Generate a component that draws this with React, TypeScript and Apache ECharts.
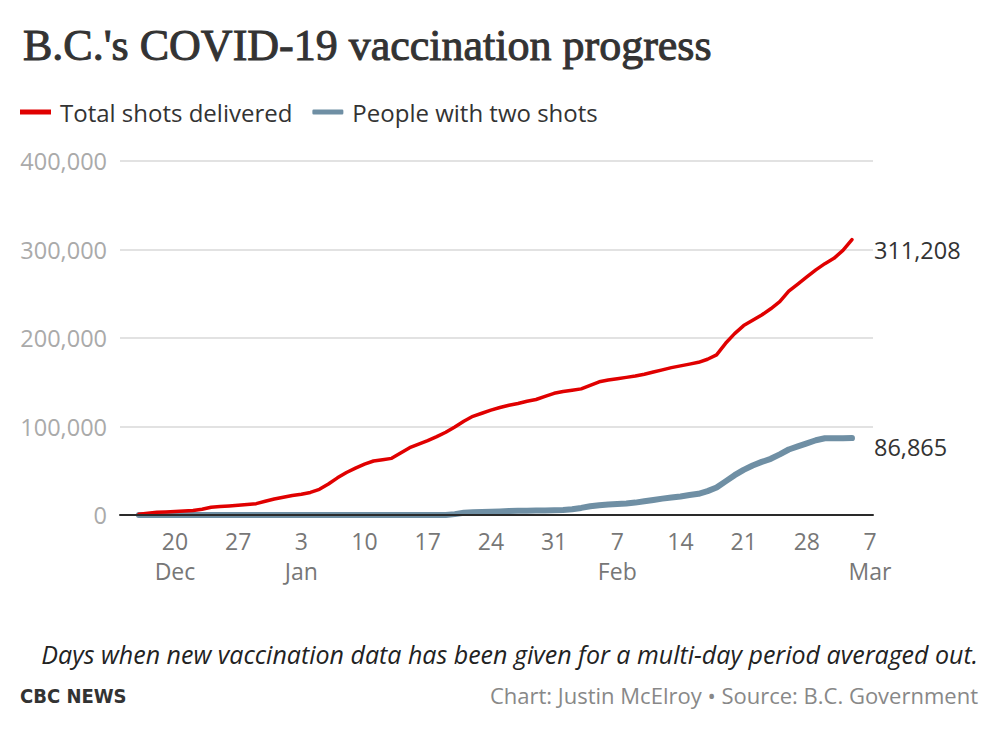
import React, { useEffect, useRef } from "react";
import * as echarts from "echarts";

// ---- data ----
const START_DATE = "2020-12-16"; // first day of the daily series
const REF_DATE = "2020-12-20"; // x = 0 on the axis

const totalShots = [
  800, 2000, 3000, 3500, 4000, 4500, 5200, 6500, 8700, 9500, 10300, 11000, 11800, 12800, 15500, 18000,
  20000, 22000, 23500, 25500, 29000, 35000, 42000, 48000, 53000, 57500, 61000, 62500, 64000, 70000, 76000,
  80000, 84000, 88500, 93500, 99500, 106000, 111500, 115000, 118500, 121500, 124000, 126000, 128500,
  130500, 134000, 137500, 139500, 141000, 142500, 146500, 150500, 152500, 154000, 155500, 157000, 159000,
  161500, 164000, 166500, 168500, 170500, 172500, 176000, 181000, 194000, 205000, 214000, 220000, 226000,
  233000, 241000, 253000, 261000, 269000, 277000, 284000, 290000, 299000, 311208,
];

const twoShots = [
  0, 0, 0, 0, 0, 0, 0, 0, 0, 0, 0, 0, 0, 0, 0, 0,
  0, 0, 0, 0, 0, 0, 0, 0, 0, 0, 0, 0, 0, 0, 0,
  0, 0, 0, 0, 1000, 2500, 3000, 3300, 3600, 4000, 4400, 4700, 4900,
  5000, 5200, 5400, 5700, 6500, 8000, 9800, 11000, 11800, 12300, 13000, 14000, 15500,
  17000, 18500, 19800, 21000, 22500, 24000, 27000, 31000, 38000, 45000, 51000, 56000, 60000,
  63500, 68500, 74000, 77500, 81000, 84500, 86700, 86800, 86800, 86865,
];

const xTickDays = [0, 7, 14, 21, 28, 35, 42, 49, 56, 63, 70, 77];
const yTicks = [0, 100000, 200000, 300000, 400000];
const MONTHS = ["Jan", "Feb", "Mar", "Apr", "May", "Jun", "Jul", "Aug", "Sep", "Oct", "Nov", "Dec"];

const DAY = 86400000;
const toUTC = (s: string) => {
  const [y, m, d] = s.split("-").map(Number);
  return Date.UTC(y, m - 1, d);
};
const startOffset = (toUTC(START_DATE) - toUTC(REF_DATE)) / DAY;

const fmt = (v: number) => String(Math.round(v)).replace(/\B(?=(\d{3})+(?!\d))/g, ",");

const dayLabel = (off: number) => {
  const d = new Date(toUTC(REF_DATE) + off * DAY);
  const day = d.getUTCDate();
  const isFirstOfMonthTick = off === 0 || day <= 7;
  return isFirstOfMonthTick ? `${day}\n${MONTHS[d.getUTCMonth()]}` : `${day}`;
};

export default function App() {
  const ref = useRef<HTMLDivElement>(null);

  useEffect(() => {
    if (!ref.current) return;
    const chart = echarts.init(ref.current, undefined, { renderer: "svg" });
    const font = "'Open Sans', 'Noto Sans', sans-serif";

    const redData = totalShots.map((v, i) => [startOffset + i, v]);
    const blueData = twoShots.map((v, i) => [startOffset + i, v]);

    chart.setOption({
      animation: false,
      backgroundColor: "#ffffff",
      title: {
        text: "B.C.'s COVID-19 vaccination progress",
        left: 18,
        top: 18,
        textStyle: {
          fontFamily: "'Liberation Serif', serif",
          fontSize: 44,
          fontWeight: "normal",
          color: "#333333",
          textBorderColor: "#333333",
          textBorderWidth: 1,
        },
      },
      legend: {
        left: 20,
        top: 98,
        padding: 0,
        itemWidth: 31,
        itemHeight: 5,
        itemGap: 20,
        textStyle: {
          fontFamily: font,
          fontSize: 24,
          color: "#333333",
          lineHeight: 28,
          padding: [0, 0, 0, 4],
        },
        data: [
          { name: "Total shots delivered", icon: "rect" },
          { name: "People with two shots", icon: "roundRect" },
        ],
      },
      grid: { left: 120, right: 127, top: 161, bottom: 225, containLabel: false },
      xAxis: {
        type: "value",
        min: -6.09,
        max: 77.33,
        z: 5,
        axisLine: { show: true, onZero: false, lineStyle: { color: "#2a2a2a", width: 2 } },
        axisTick: { show: false },
        splitLine: { show: false },
        axisLabel: {
          customValues: xTickDays,
          formatter: (v: number) => dayLabel(v),
          fontFamily: font,
          fontSize: 23,
          color: "#777777",
          lineHeight: 30,
          margin: 11,
        },
      },
      yAxis: {
        type: "value",
        min: 0,
        max: 400000,
        interval: 100000,
        axisLine: { show: false },
        axisTick: { show: false },
        splitLine: { show: true, lineStyle: { color: "#e2e2e2", width: 2 } },
        axisLabel: {
          customValues: yTicks,
          formatter: (v: number) => fmt(v),
          fontFamily: font,
          fontSize: 23.5,
          color: "#aaaaaa",
          margin: 13,
        },
      },
      series: [
        {
          name: "People with two shots",
          type: "line",
          data: blueData,
          showSymbol: false,
          symbol: "none",
          color: "#6f8fa4",
          lineStyle: { width: 6, color: "#6f8fa4", cap: "round", join: "round" },
          z: 2,
          endLabel: {
            show: true,
            formatter: (p: any) => fmt(p.value[1]),
            fontFamily: font,
            fontSize: 23.5,
            color: "#333333",
            offset: [14, 9],
          },
        },
        {
          name: "Total shots delivered",
          type: "line",
          data: redData,
          showSymbol: false,
          symbol: "none",
          color: "#e00000",
          lineStyle: { width: 3.5, color: "#e00000", cap: "round", join: "round" },
          z: 3,
          endLabel: {
            show: true,
            formatter: (p: any) => fmt(p.value[1]),
            fontFamily: font,
            fontSize: 23.5,
            color: "#333333",
            offset: [14, 10],
          },
        },
      ],
      graphic: [
        {
          type: "text",
          right: 22,
          top: 641,
          style: {
            text: "Days when new vaccination data has been given for a multi-day period averaged out.",
            fontFamily: font,
            fontSize: 25,
            fontStyle: "italic",
            fill: "#222222",
          },
        },
        {
          type: "text",
          left: 20,
          top: 686,
          style: {
            text: "CBC NEWS",
            fontFamily: "'DejaVu Sans Condensed', 'Open Sans', sans-serif",
            fontSize: 20,
            fontWeight: "bold",
            fill: "#333333",
          },
        },
        {
          type: "text",
          right: 22,
          top: 684,
          style: {
            text: "Chart: Justin McElroy • Source: B.C. Government",
            fontFamily: font,
            fontSize: 22,
            fill: "#888888",
          },
        },
      ],
    });

    return () => chart.dispose();
  }, []);

  return (
    <div
      ref={ref}
      style={{ position: "fixed", left: 0, top: 0, width: 1000, height: 740, background: "#fff" }}
    />
  );
}
